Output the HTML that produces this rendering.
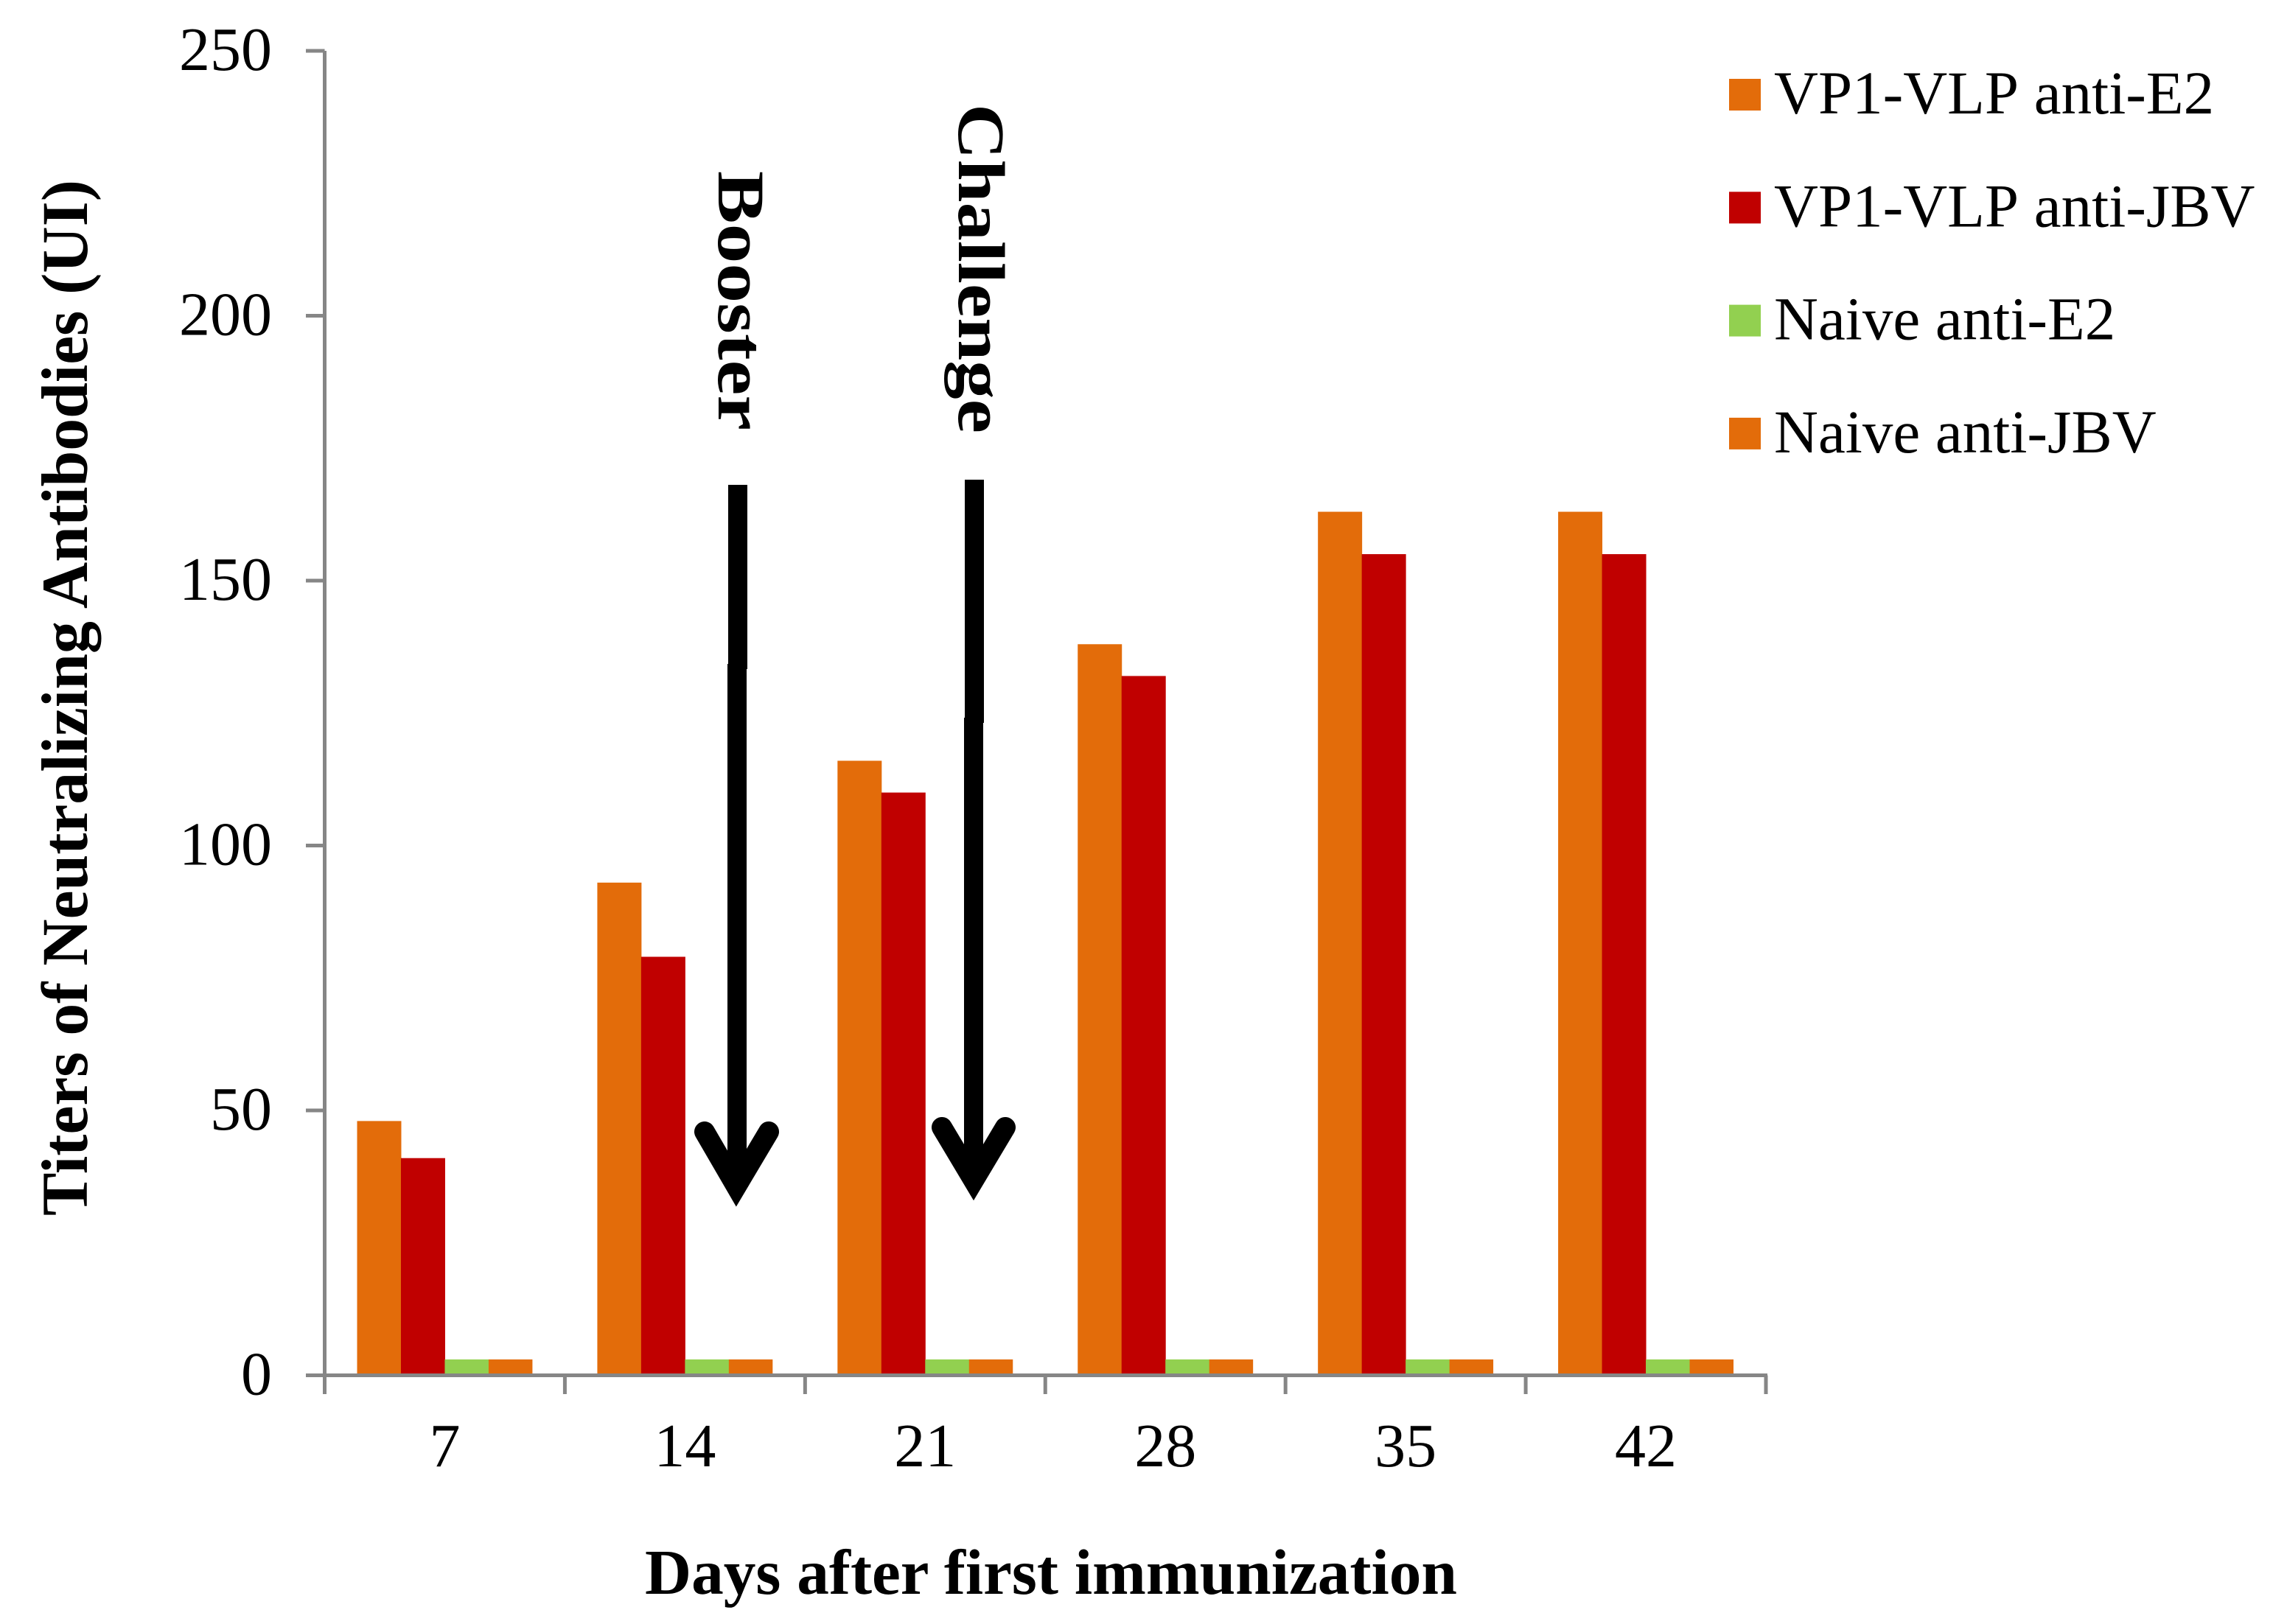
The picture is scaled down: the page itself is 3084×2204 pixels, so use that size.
<!DOCTYPE html>
<html lang="en">
<head>
<meta charset="utf-8">
<title>Titers of Neutralizing Antibodies</title>
<style>
  html, body { margin: 0; padding: 0; background: #fff; }
  svg { display: block; }
  text { font-family: "Liberation Serif", "Times New Roman", serif; fill: #000; }
</style>
</head>
<body>
<svg id="chart" xmlns="http://www.w3.org/2000/svg" width="3084" height="2204" viewBox="0 0 3084 2204">
  <rect x="0" y="0" width="3084" height="2204" fill="#ffffff"/>
  <g id="bars"></g>
  <g id="axes"></g>
  <text transform="translate(118,1650) rotate(-90)" font-size="89" font-weight="bold" textLength="1406" lengthAdjust="spacingAndGlyphs">Titers of Neutralizing Antibodies (UI)</text>
  <text x="875" y="2163" font-size="87" font-weight="bold" textLength="1102" lengthAdjust="spacingAndGlyphs">Days after first immunization</text>

  <g>
    <text transform="translate(975,232) rotate(90)" font-size="90" font-weight="bold" textLength="352" lengthAdjust="spacingAndGlyphs">Booster</text>
    <rect x="988" y="658" width="26" height="250" fill="#000"/>
    <rect x="987" y="901" width="26" height="710" fill="#000"/>
    <polyline points="956,1536 999,1610 1043,1536" fill="none" stroke="#000" stroke-width="28" stroke-linecap="round" stroke-linejoin="miter" stroke-miterlimit="10"/>
  </g>
  <g>
    <text transform="translate(1301,141) rotate(90)" font-size="90" font-weight="bold" textLength="447" lengthAdjust="spacingAndGlyphs">Challenge</text>
    <rect x="1309" y="651" width="26" height="330" fill="#000"/>
    <rect x="1308" y="974" width="26" height="628" fill="#000"/>
    <polyline points="1278,1530 1321,1602 1364,1530" fill="none" stroke="#000" stroke-width="28" stroke-linecap="round" stroke-linejoin="miter" stroke-miterlimit="10"/>
  </g>

  <g id="legend"></g>
</svg>
<script>
var categories = ['7', '14', '21', '28', '35', '42'];
var vp1AntiE2 = [48, 93, 116, 138, 163, 163];
var vp1AntiJBV = [41, 79, 110, 132, 155, 155];
var naiveAntiE2 = [3, 3, 3, 3, 3, 3];
var naiveAntiJBV = [3, 3, 3, 3, 3, 3];
var yTicks = [0, 50, 100, 150, 200, 250];
var seriesNames = ['VP1-VLP anti-E2', 'VP1-VLP anti-JBV', 'Naive anti-E2', 'Naive anti-JBV'];
var seriesColors = ['#E36C0A', '#C00000', '#92D050', '#E36C0A'];
var seriesValues = [vp1AntiE2, vp1AntiJBV, naiveAntiE2, naiveAntiJBV];

var NS = 'http://www.w3.org/2000/svg';
var plotLeft = 440.5, plotRight = 2396, plotBottom = 1866.5, plotTop = 69;
var yMax = 250;
function yScale(v) { return plotBottom - (v / yMax) * (plotBottom - plotTop); }
function bandWidth() { return (plotRight - plotLeft) / categories.length; }
function xBand(i) { return plotLeft + i * bandWidth(); }
function barWidth() { return bandWidth() * 0.73 / seriesValues.length; }
function make(tag, attrs, parent) {
  var el = document.createElementNS(NS, tag);
  for (var k in attrs) el.setAttribute(k, attrs[k]);
  parent.appendChild(el);
  return el;
}

var barsG = document.getElementById('bars');
var axesG = document.getElementById('axes');
var legendG = document.getElementById('legend');

seriesValues.forEach(function (vals, s) {
  vals.forEach(function (v, i) {
    var gap = (bandWidth() - barWidth() * seriesValues.length) / 2;
    var r = make('rect', {
      x: xBand(i) + gap + s * barWidth(),
      y: yScale(v),
      width: barWidth() + (s < 3 ? 0.5 : 0),
      height: plotBottom - yScale(v),
      fill: seriesColors[s]
    }, barsG);
    
    
  });
});

var axisColor = '#868686';
var yLine = make('line', { x1: plotLeft, y1: plotTop, x2: plotLeft, y2: 1892, stroke: axisColor, 'stroke-width': 5 }, axesG);


var xLine = make('line', { x1: 415, y1: plotBottom, x2: plotRight + 2, y2: plotBottom, stroke: axisColor, 'stroke-width': 5 }, axesG);



yTicks.forEach(function (t) {
  var tk = make('line', { x1: 415, y1: yScale(t), x2: plotLeft, y2: yScale(t), stroke: axisColor, 'stroke-width': 5 }, axesG);
  
  
  var lb = make('text', { x: 369, y: yScale(t) + 26, 'font-size': 84, 'text-anchor': 'end' }, axesG);
  lb.textContent = String(t);
  
  
});

for (var b = 0; b <= categories.length; b++) {
  var xt = make('line', { x1: xBand(b), y1: plotBottom, x2: xBand(b), y2: 1892, stroke: axisColor, 'stroke-width': 5 }, axesG);
  
  
}
categories.forEach(function (c, i) {
  var lb = make('text', { x: xBand(i) + bandWidth() / 2, y: 1990, 'font-size': 84, 'text-anchor': 'middle' }, axesG);
  lb.textContent = c;
  
  
});

var legendRowStep = 153.3;
seriesNames.forEach(function (n, s) {
  var sw = make('rect', { x: 2346, y: 107 + s * legendRowStep, width: 43, height: 43, fill: seriesColors[s] }, legendG);
  
  
  var tx = make('text', { x: 2407, y: 154 + s * legendRowStep, 'font-size': 83, style: 'font-kerning:none' }, legendG);
  tx.textContent = n;
  
  
});
</script>
</body>
</html>
